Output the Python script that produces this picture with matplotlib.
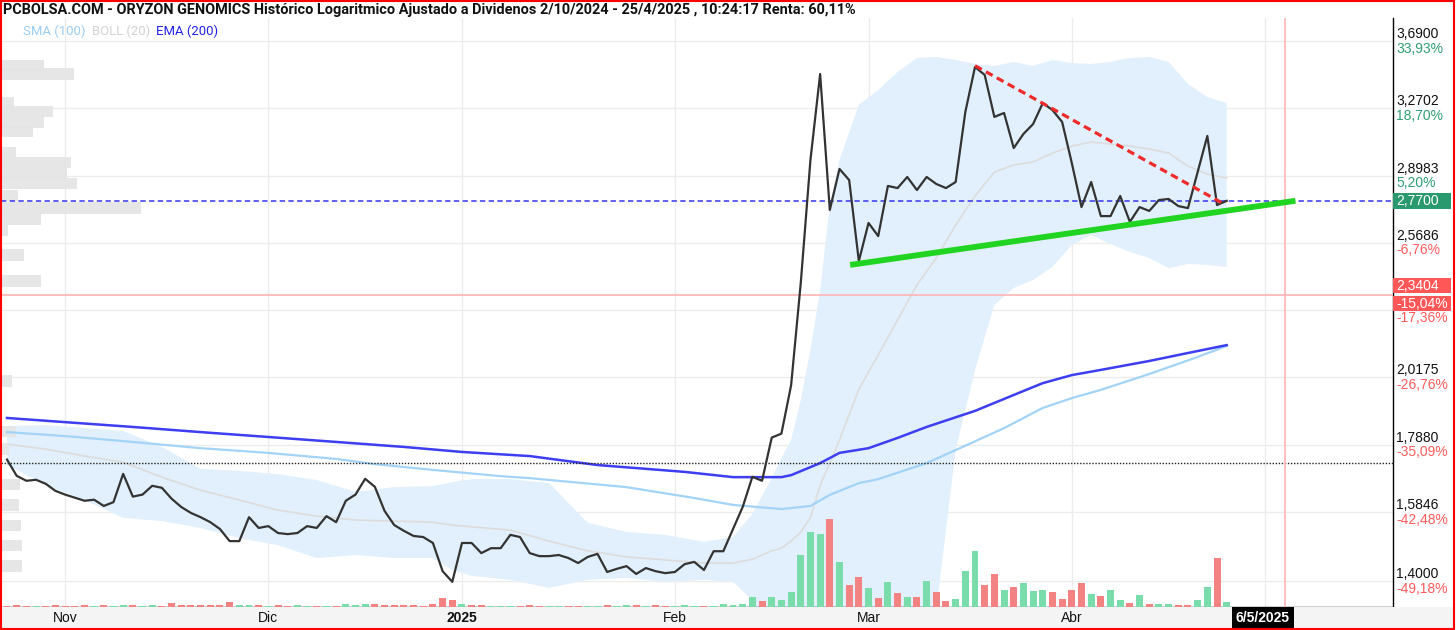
import numpy as np
import pandas as pd
import matplotlib
matplotlib.use("Agg")
import matplotlib.pyplot as plt
from matplotlib.patches import Rectangle
from matplotlib.ticker import NullLocator
from matplotlib.transforms import IdentityTransform
from matplotlib import font_manager as fm

# ---------------- data ----------------
holidays = ["2024-12-25", "2024-12-26", "2025-01-01", "2025-04-18", "2025-04-21", "2025-05-01"]
all_days = [d.strftime("%Y-%m-%d") for d in pd.bdate_range("2024-10-24", "2025-05-09")]
trade_days = [d for d in all_days if d not in holidays]
day_index = {d: i for i, d in enumerate(trade_days)}

close = [1.741, 1.691, 1.676, 1.679, 1.667, 1.646, 1.635, 1.626, 1.617, 1.620,
         1.602, 1.613, 1.697, 1.629, 1.635, 1.661, 1.655, 1.623, 1.599, 1.582,
         1.570, 1.556, 1.537, 1.504, 1.504, 1.570, 1.540, 1.545, 1.526, 1.523,
         1.526, 1.545, 1.540, 1.573, 1.556, 1.617, 1.635, 1.682, 1.658, 1.588,
         1.548, 1.532, 1.518, 1.515, 1.499, 1.425, 1.398, 1.499, 1.499, 1.472,
         1.485, 1.485, 1.521, 1.515, 1.472, 1.464, 1.464, 1.467, 1.459, 1.446,
         1.462, 1.470, 1.423, 1.431, 1.438, 1.418, 1.433, 1.425, 1.420, 1.423,
         1.443, 1.449, 1.428, 1.477, 1.477, 1.537, 1.599, 1.688, 1.676, 1.811,
         1.824, 1.989, 2.390, 2.981, 3.478, 2.725, 2.933, 2.875, 2.486, 2.662,
         2.600, 2.845, 2.834, 2.891, 2.824, 2.891, 2.855, 2.834, 2.865, 3.249,
         3.522, 3.472, 3.220, 3.243, 3.045, 3.123, 3.179, 3.301, 3.260, 3.191,
         2.964, 2.739, 2.865, 2.695, 2.695, 2.794, 2.667, 2.739, 2.720, 2.774,
         2.779, 2.744, 2.734, 2.917, 3.112, 2.749, 2.770]

volume = [30, 200, 30, 30, 30, 200, 30, 30, 200, 30,
          200, 30, 200, 200, 30, 200, 30, 400, 200, 200,
          200, 200, 200, 500, 200, 200, 200, 30, 200, 30,
          200, 30, 30, 30, 30, 300, 200, 300, 300, 200,
          200, 200, 200, 30, 300, 900, 700, 300, 200, 200,
          30, 30, 30, 30, 200, 30, 30, 30, 30, 30,
          30, 30, 200, 30, 200, 200, 30, 200, 30, 30,
          200, 30, 30, 30, 300, 200, 300, 940, 570, 940,
          700, 1440, 5200, 7460, 7300, 8800, 4450, 2170, 2940, 1840,
          840, 2440, 1340, 940, 940, 2580, 1440, 570, 800, 3550,
          5550, 2170, 3210, 1670, 1940, 2340, 1570, 1670, 1440, 800,
          1670, 2340, 1270, 1040, 1670, 670, 400, 1140, 300, 270,
          270, 170, 170, 670, 1940, 4850, 430]

vol_dir = ("rrrgrrrrrg" "rggrggrrrr" "rrrrggrgrr" "ggrgrgggrr" "rrrrrrrgrr"
           "gggrrrggrr" "ggrggrgrrg" "ggrgggggrg" "gggggrgrrg" "rgrgrgrrgg"
           "grrgrgggrr" "rrgrggrgrg" "grrggrg")

boll_x = [0, 4, 8, 12, 16, 20, 24, 28, 32, 36, 40, 44, 46, 48, 52, 56, 60, 64, 68, 72,
          75, 77, 79, 80, 81, 82, 83, 84, 85, 86, 88, 90, 92, 94, 96, 98, 100, 102, 104, 106,
          108, 110, 112, 114, 116, 118, 120, 122, 124, 126]
boll_up = [1.849, 1.852, 1.842, 1.833, 1.781, 1.712, 1.706, 1.696, 1.678, 1.643,
           1.657, 1.660, 1.672, 1.681, 1.681, 1.669, 1.554, 1.529, 1.521, 1.502,
           1.515, 1.579, 1.684, 1.746, 1.803, 1.937, 2.119, 2.360, 2.749, 2.981,
           3.290, 3.379, 3.490, 3.579, 3.586, 3.566, 3.541, 3.528, 3.554, 3.528,
           3.566, 3.547, 3.541, 3.554, 3.579, 3.586, 3.554, 3.416, 3.337, 3.301]
boll_mid = [1.790, 1.774, 1.752, 1.733, 1.687, 1.648, 1.619, 1.590, 1.573, 1.562,
            1.559, 1.556, 1.548, 1.543, 1.534, 1.504, 1.478, 1.462, 1.454, 1.446,
            1.446, 1.456, 1.478, 1.485, 1.504, 1.529, 1.568, 1.663, 1.730, 1.803,
            1.975, 2.100, 2.237, 2.382, 2.500, 2.652, 2.794, 2.917, 2.954, 2.970,
            3.018, 3.056, 3.078, 3.067, 3.056, 3.040, 3.018, 2.948, 2.906, 2.886]
boll_low = [1.724, 1.663, 1.619, 1.568, 1.559, 1.540, 1.512, 1.493, 1.459, 1.467,
            1.459, 1.459, 1.428, 1.413, 1.403, 1.383, 1.403, 1.408, 1.398, 1.403,
            1.398, 1.353, 1.259, 1.215, 1.172, 1.131, 1.091, 1.053, 1.034, 1.015,
            1.015, 1.034, 1.091, 1.172, 1.329, 1.771, 2.045, 2.298, 2.369, 2.403,
            2.460, 2.559, 2.605, 2.563, 2.527, 2.500, 2.455, 2.473, 2.469, 2.460]

ema_x = [0, 6, 13, 20, 27, 34, 41, 47, 54, 61, 70, 75, 80, 81, 84, 86, 89, 92, 95, 100,
         104, 107, 110, 113, 118, 122, 126]
ema200 = [1.876, 1.862, 1.846, 1.829, 1.813, 1.797, 1.781, 1.765, 1.752, 1.724,
          1.703, 1.687, 1.687, 1.693, 1.730, 1.762, 1.777, 1.810, 1.846, 1.900,
          1.955, 1.997, 2.026, 2.045, 2.078, 2.108, 2.138]

sma_x = [0, 6, 13, 20, 27, 34, 38, 44, 51, 54, 64, 71, 75, 80, 83, 85, 88, 90, 95, 98,
         103, 107, 110, 113, 118, 123, 126]
sma100 = [1.829, 1.816, 1.797, 1.777, 1.762, 1.743, 1.727, 1.709, 1.690, 1.684,
          1.657, 1.625, 1.605, 1.593, 1.602, 1.634, 1.669, 1.681, 1.730, 1.771,
          1.842, 1.910, 1.944, 1.973, 2.030, 2.093, 2.135]

profile_price = [3.531, 3.478, 3.304, 3.251, 3.191, 3.137, 3.021, 2.967, 2.912, 2.857,
                 2.797, 2.734, 2.681, 2.626, 2.513, 2.399, 2.005, 1.831, 1.774, 1.665,
                 1.605, 1.547, 1.492, 1.438]
profile_vol = [43, 73, 13, 52, 43, 32, 15, 70, 66, 76, 17, 140, 40, 7, 23, 40, 11, 15,
               8, 19, 18, 20, 21, 21]

last_price = 2.77
last_label = "2,7700"
support_price = 2.3404
support_label = "2,3404"
support_pct = "-15,04%"
period_start_price = 1.7301

ytick_vals = [3.6900, 3.2702, 2.8983, 2.5686, 2.2764, 2.0175, 1.7880, 1.5846, 1.4000]
ytick_text = ["3,6900", "3,2702", "2,8983", "2,5686", "2,2764", "2,0175", "1,7880", "1,5846", "1,4000"]
ytick_pct = ["33,93%", "18,70%", "5,20%", "-6,76%", "-17,36%", "-26,76%", "-35,09%", "-42,48%", "-49,18%"]

month_days = ["2024-11-01", "2024-12-02", "2025-01-02", "2025-02-03", "2025-03-03", "2025-04-01", "2025-05-02"]
month_labels = ["Nov", "Dic", "2025", "Feb", "Mar", "Abr", ""]
cursor_day = "2025-05-06"
cursor_label = "6/5/2025"

down_trend_x = [100, 125.5]
down_trend_y = [3.53, 2.76]
up_trend_x = [87.1, 133.1]
up_trend_y = [2.469, 2.77]

title = ("PCBOLSA.COM - ORYZON GENOMICS Histórico Logaritmico Ajustado a Dividenos "
         "2/10/2024 - 25/4/2025 , 10:24:17 Renta: 60,11%")
legend_items = [("SMA (100)", "#9ccdf3"), ("BOLL (20)", "#d2d2d2"), ("EMA (200)", "#2323e6")]

# ---------------- fonts ----------------
names = {f.name for f in fm.fontManager.ttflist}
NARROW = "Liberation Sans Narrow" if "Liberation Sans Narrow" in names else "Roboto"
LAB = "Liberation Sans" if "Liberation Sans" in names else "DejaVu Sans"

# ---------------- figure ----------------
W, H = 1456, 630
fig = plt.figure(figsize=(W / 100, H / 100), dpi=100)
fig.patch.set_facecolor("white")
AX_L, AX_R, AX_T, AX_B = 1, 1393, 18, 606.5
ax = fig.add_axes([AX_L / W, 1 - AX_B / H, (AX_R - AX_L) / W, (AX_B - AX_T) / H])
ax.set_yscale("log")

x = np.arange(len(close))

# grid
ax.set_yticks(ytick_vals)
ax.yaxis.set_minor_locator(NullLocator())
ax.set_yticklabels([])
ax.set_xticks([day_index[d] for d in month_days])
ax.set_xticklabels([])
ax.tick_params(length=0)
ax.grid(True, color="#ececec", lw=1.0, zorder=0)
ax.set_axisbelow(True)

# Bollinger band
ax.fill_between(boll_x, boll_low, boll_up, color="#e1f0fc", lw=0, zorder=1)
ax.plot(boll_x, boll_mid, color="#dcdcdc", lw=1.2, zorder=2)

# volume profile (left)
prof = np.array(profile_vol, float)
prof_frac = prof / prof.max() * 0.1006
prof_half = 1.0104
pp = np.array(profile_price)
ax.barh(pp / prof_half, prof_frac, height=pp * prof_half - pp / prof_half, left=0,
        align="edge", color="#e4e4e4", alpha=0.9, lw=0,
        transform=ax.get_yaxis_transform(), zorder=2)

# volume bars (bottom)
vol = np.array(volume, float)
vol_frac = vol / vol.max() * (88.0 / (AX_B - AX_T))
vcol = ["#7adcaa" if c == "g" else "#f38282" for c in vol_dir]
ax.bar(x, vol_frac, width=0.72, bottom=0, color=vcol, lw=0,
       transform=ax.get_xaxis_transform(), zorder=3)

# moving averages
ax.plot(sma_x, sma100, color="#a3d3f7", lw=1.6, zorder=4)
ax.plot(ema_x, ema200, color="#3d3df2", lw=1.8, zorder=4)

# reference lines
ax.axhline(period_start_price, color="#222222", lw=1.0, ls=(0, (1, 1.2)), zorder=5)
ax.axhline(support_price, color="#ffb4b4", lw=1.2, zorder=5)
ax.axhline(last_price, color="#3535ee", lw=1.1, ls=(0, (3.5, 2.2)), zorder=5)
ax.axvline(day_index[cursor_day], color="#ffb4b4", lw=1.2, zorder=5)

# price
ax.plot(x, close, color="#333333", lw=1.6, zorder=6)

# trend lines
ax.plot(down_trend_x, down_trend_y, color="#ee2a2a", lw=2.3, ls=(0, (2.4, 1.5)), zorder=7)
ax.plot(up_trend_x, up_trend_y, color="#22d422", lw=4.2, solid_capstyle="butt", zorder=7)

ax.set_xlim(-0.62, 143.18)
ax.set_ylim(1.3375, 3.8455)
for s in ["top", "left"]:
    ax.spines[s].set_visible(False)
for s in ["right", "bottom"]:
    ax.spines[s].set_color("black")
    ax.spines[s].set_linewidth(1.0)

ID = IdentityTransform()

def ypix(v):
    return ax.transData.transform((0, v))[1]

def xpix(i):
    return ax.transData.transform((i, 2.0))[0]

# x-axis band
fig.add_artist(Rectangle((1, 2), W - 3, H - AX_B - 2,
                         transform=ID, fc="#f4f4f4", ec="none", zorder=0.5))
for d, lab in zip(month_days, month_labels):
    if lab:
        fig.text(xpix(day_index[d]), H - 618, lab, transform=ID, ha="center", va="center",
                 fontsize=10, family=LAB, color="#111111",
                 fontweight="bold" if lab.isdigit() else "normal", zorder=3)
fig.text(xpix(day_index[cursor_day]) - 22, H - 618, cursor_label, transform=ID,
         ha="center", va="center", fontsize=10, family=LAB, color="white", fontweight="bold",
         bbox=dict(boxstyle="square,pad=0.3", fc="black", ec="none"), zorder=4)

# right axis labels
xr = ax.bbox.x1
for v, t, p in zip(ytick_vals, ytick_text, ytick_pct):
    yc = ypix(v)
    fig.text(xr + 3, yc + 7, t, transform=ID, ha="left", va="center", fontsize=10,
             family=LAB, color="#111111", zorder=3)
    fig.text(xr + 3, yc - 7.5, p, transform=ID, ha="left", va="center", fontsize=10,
             family=LAB, color="#ff5b5b" if p.startswith("-") else "#2f9f72", zorder=3)

yc = ypix(last_price)
fig.add_artist(Rectangle((xr, yc - 8), 58, 16, transform=ID, fc="#2a9a6e", ec="none", zorder=4))
fig.text(xr + 3, yc, last_label, transform=ID, ha="left", va="center", fontsize=10,
         family=LAB, color="white", zorder=5)
yc = ypix(support_price)
fig.add_artist(Rectangle((xr, yc + 1.5), 58, 15, transform=ID, fc="#ff5757", ec="none", zorder=4))
fig.add_artist(Rectangle((xr, yc - 16.5), 58, 15, transform=ID, fc="#ff5757", ec="none", zorder=4))
fig.text(xr + 3, yc + 9, support_label, transform=ID, ha="left", va="center", fontsize=10,
         family=LAB, color="white", zorder=5)
fig.text(xr + 3, yc - 9, support_pct, transform=ID, ha="left", va="center", fontsize=10,
         family=LAB, color="white", zorder=5)

# title and legend
renderer = fig.canvas.get_renderer()
tt = fig.text(3, H - 10, title, transform=ID, ha="left", va="center", fontsize=11,
              fontweight="bold", family=NARROW, color="#111111", zorder=5)
w = tt.get_window_extent(renderer).width
tt.set_fontsize(11 * 857 / w)

lx = 23
first = fig.text(lx, H - 31, legend_items[0][0], transform=ID, ha="left", va="center",
                 fontsize=10, family=NARROW, color=legend_items[0][1], zorder=5)
w0 = first.get_window_extent(renderer).width
lsize = 10 * 62 / w0
first.set_fontsize(lsize)
lx += first.get_window_extent(renderer).width + 6
for txt, col in legend_items[1:]:
    t = fig.text(lx, H - 31, txt, transform=ID, ha="left", va="center", fontsize=lsize,
                 family=NARROW, color=col, zorder=5)
    lx += t.get_window_extent(renderer).width + 6

# outer red frame
fig.add_artist(Rectangle((1, 1), W - 3, H - 2, transform=ID, fill=False, ec="#ff0000",
                         lw=1.5, zorder=10))

fig.savefig("out.png", dpi=100)
